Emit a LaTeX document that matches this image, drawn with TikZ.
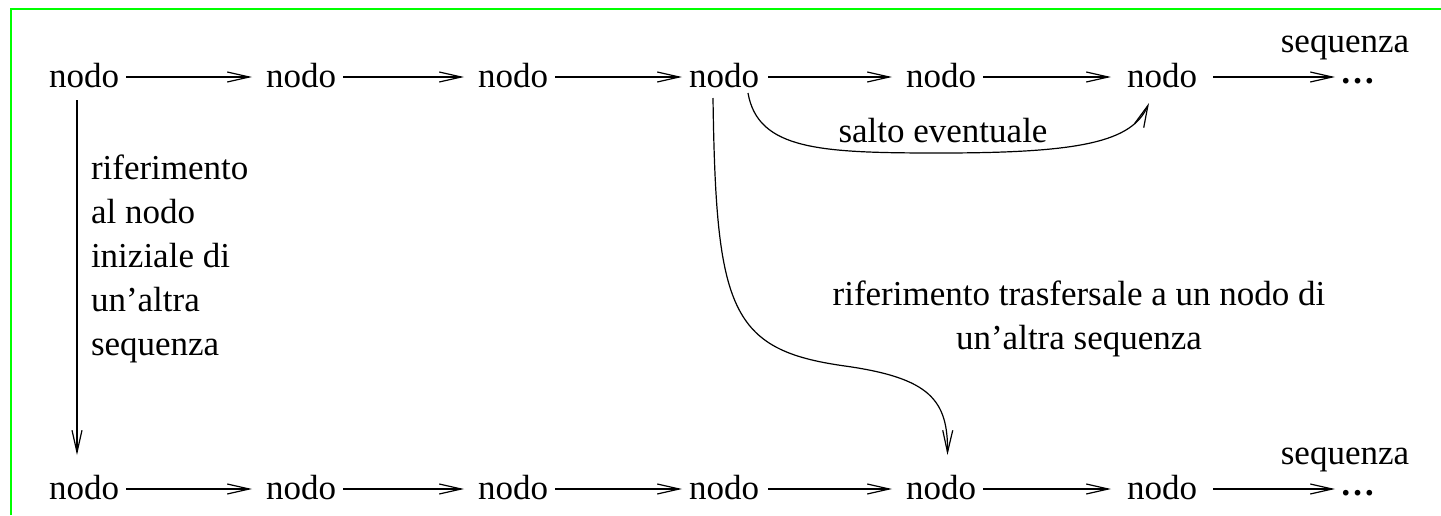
\documentclass[tikz,border=0pt]{standalone}
\usepackage{fontspec}
\setmainfont{Liberation Serif}
\usetikzlibrary{arrows.meta}
\definecolor{framegreen}{RGB}{0,255,0}
\begin{document}
\begin{tikzpicture}[x=1pt,y=-1pt,
  every node/.style={inner sep=0pt,outer sep=0pt,font=\fontsize{35}{44}\selectfont},
  nd/.style={anchor=base west,text height=20pt,text depth=0pt},
  dots/.style={anchor=base west},
  lbl/.style={anchor=base},
  arr/.style={line width=1.2pt,-{Straight Barb[length=22pt,width=10pt,line width=1.2pt]}},
  frm/.style={draw=framegreen,line width=2.2pt}]
\useasboundingbox (0,0) rectangle (1441,515);
\draw[frm] (11,515) -- (11,9) -- (1441,9);
% top row
\node[nd] (a1) at (49,87) {nodo};
\node[nd] (a2) at (266,87) {nodo};
\node[nd] (a3) at (478,87) {nodo};
\node[nd] (a4) at (689,87) {nodo};
\node[nd] (a5) at (906,87) {nodo};
\node[nd] (a6) at (1127,87) {nodo};
\node[dots] (a7) at (1340,83) {\textbf{\ldots}};
\node[lbl] (s1) at (1345,52) {sequenza};
% bottom row
\node[nd] (b1) at (49,499) {nodo};
\node[nd] (b2) at (266,499) {nodo};
\node[nd] (b3) at (478,499) {nodo};
\node[nd] (b4) at (689,499) {nodo};
\node[nd] (b5) at (906,499) {nodo};
\node[nd] (b6) at (1127,499) {nodo};
\node[dots] (b7) at (1340,495) {\textbf{\ldots}};
\node[lbl] (s2) at (1345,464) {sequenza};
% horizontal arrows
\foreach \r in {a,b}{
  \draw[arr] ([xshift=7pt]\r1.east) -- ([xshift=-14pt]\r2.west);
  \draw[arr] ([xshift=7pt]\r2.east) -- ([xshift=-14pt]\r3.west);
  \draw[arr] ([xshift=7pt]\r3.east) -- ([xshift=-7pt]\r4.west);
  \draw[arr] ([xshift=9pt]\r4.east) -- ([xshift=-14pt]\r5.west);
  \draw[arr] ([xshift=7pt]\r5.east) -- ([xshift=-16pt]\r6.west);
  \draw[arr] ([xshift=16pt]\r6.east) -- ([xshift=-5pt]\r6.east -| \r7.west);
}
% vertical arrow
\draw[arr] ([xshift=-7pt,yshift=-13pt]a1.south) -- ([xshift=-7pt,yshift=24pt]b1.north);
\node[anchor=north west,align=left] (t1) at (91,155) {riferimento\\al nodo\\iniziale di\\un’altra\\sequenza};
% salto eventuale
\draw[arr] ([xshift=24pt,yshift=-6pt]a4.south) .. controls (758,150) and (820,153) .. (940,153)
  .. controls (1080,153) and (1132,142) .. ([xshift=-13pt,yshift=-16pt]a6.south);
\node[lbl] (t2) at (943,142) {salto eventuale};
% transversal reference
\draw[arr] ([xshift=-11pt,yshift=-11pt]a4.south) .. controls (716,310) and (730,350) .. (845,366)
  .. controls (930,378) and (948,400) .. ([xshift=6.5pt,yshift=24pt]b5.north);
\node[anchor=north,align=center] (t3) at (1079,281) {riferimento trasfersale a un nodo di\\un’altra sequenza};
\end{tikzpicture}
\end{document}
